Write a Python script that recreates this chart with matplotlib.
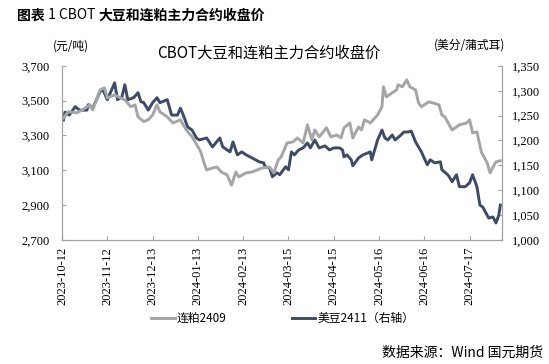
import matplotlib
matplotlib.use('Agg')
import matplotlib.pyplot as plt
from matplotlib.ticker import FuncFormatter
import pandas as pd

plt.rcParams['font.family'] = ['Noto Sans CJK SC', 'DejaVu Sans']

# 连粕2409 (元/吨), left axis
dates_meal = ['2023-10-13', '2023-10-16', '2023-10-22', '2023-10-26', '2023-10-31', '2023-11-02',
              '2023-11-07', '2023-11-10', '2023-11-12', '2023-11-17', '2023-11-21', '2023-11-24',
              '2023-11-28', '2023-12-01', '2023-12-03', '2023-12-07', '2023-12-10', '2023-12-13',
              '2023-12-16', '2023-12-18', '2023-12-23', '2023-12-27', '2024-01-01', '2024-01-05',
              '2024-01-09', '2024-01-13', '2024-01-15', '2024-01-17', '2024-01-19', '2024-01-23',
              '2024-01-26', '2024-01-29', '2024-02-02', '2024-02-05', '2024-02-08', '2024-02-10',
              '2024-02-15', '2024-02-19', '2024-02-26', '2024-03-02', '2024-03-05', '2024-03-08',
              '2024-03-10', '2024-03-14', '2024-03-18', '2024-03-21', '2024-03-25', '2024-03-28',
              '2024-03-31', '2024-04-02', '2024-04-05', '2024-04-10', '2024-04-13', '2024-04-17',
              '2024-04-20', '2024-04-22', '2024-04-26', '2024-04-28', '2024-05-02', '2024-05-04',
              '2024-05-06', '2024-05-10', '2024-05-15', '2024-05-18', '2024-05-19', '2024-05-21',
              '2024-05-25', '2024-05-28', '2024-05-29', '2024-06-01', '2024-06-04', '2024-06-06',
              '2024-06-10', '2024-06-12', '2024-06-14', '2024-06-19', '2024-06-22', '2024-06-26',
              '2024-06-28', '2024-06-30', '2024-07-03', '2024-07-05', '2024-07-10', '2024-07-15',
              '2024-07-17', '2024-07-19', '2024-07-22', '2024-07-25', '2024-07-29', '2024-07-31',
              '2024-08-02', '2024-08-04', '2024-08-07']
meal = [3400, 3436, 3430, 3447, 3476, 3447,
        3562, 3574, 3516, 3533, 3516, 3505,
        3465, 3476, 3407, 3380, 3390, 3418,
        3476, 3436, 3407, 3372, 3390, 3332,
        3292, 3235, 3205, 3148, 3102, 3113,
        3119, 3090, 3073, 3015, 3090, 3062,
        3085, 3090, 3113, 3119, 3085, 3160,
        3177, 3257, 3263, 3286, 3257, 3361,
        3275, 3332, 3292, 3344, 3292, 3303,
        3286, 3344, 3372, 3286, 3349, 3332,
        3390, 3372, 3418, 3465, 3580, 3522,
        3545, 3562, 3591, 3580, 3620, 3580,
        3562, 3487, 3465, 3493, 3487, 3476,
        3418, 3407, 3361, 3332, 3361, 3372,
        3390, 3315, 3320, 3205, 3142, 3085,
        3119, 3148, 3155]

# 美豆2411 (美分/蒲式耳), right axis
dates_bean = ['2023-10-13', '2023-10-14', '2023-10-17', '2023-10-21', '2023-10-24', '2023-10-29',
              '2023-10-30', '2023-11-02', '2023-11-07', '2023-11-09', '2023-11-12', '2023-11-15',
              '2023-11-17', '2023-11-19', '2023-11-22', '2023-11-24', '2023-11-26', '2023-11-30',
              '2023-12-03', '2023-12-05', '2023-12-07', '2023-12-10', '2023-12-13', '2023-12-16',
              '2023-12-18', '2023-12-23', '2023-12-26', '2023-12-30', '2024-01-01', '2024-01-03',
              '2024-01-06', '2024-01-09', '2024-01-12', '2024-01-14', '2024-01-19', '2024-01-23',
              '2024-01-28', '2024-01-30', '2024-02-04', '2024-02-06', '2024-02-09', '2024-02-12',
              '2024-02-15', '2024-02-19', '2024-02-24', '2024-02-27', '2024-02-28', '2024-03-02',
              '2024-03-04', '2024-03-07', '2024-03-09', '2024-03-13', '2024-03-15', '2024-03-17',
              '2024-03-19', '2024-03-22', '2024-03-25', '2024-03-28', '2024-03-30', '2024-04-02',
              '2024-04-05', '2024-04-09', '2024-04-12', '2024-04-15', '2024-04-19', '2024-04-21',
              '2024-04-22', '2024-04-24', '2024-04-27', '2024-04-28', '2024-05-02', '2024-05-05',
              '2024-05-10', '2024-05-11', '2024-05-13', '2024-05-15', '2024-05-18', '2024-05-20',
              '2024-05-22', '2024-05-25', '2024-05-27', '2024-05-31', '2024-06-02', '2024-06-05',
              '2024-06-07', '2024-06-10', '2024-06-14', '2024-06-18', '2024-06-20', '2024-06-23',
              '2024-06-27', '2024-06-28', '2024-07-02', '2024-07-03', '2024-07-05', '2024-07-08',
              '2024-07-10', '2024-07-14', '2024-07-17', '2024-07-19', '2024-07-22', '2024-07-24',
              '2024-07-26', '2024-07-30', '2024-08-02', '2024-08-04', '2024-08-06', '2024-08-07']
bean = [1241, 1257, 1251, 1268, 1261, 1261,
        1272, 1265, 1298, 1302, 1282, 1302,
        1316, 1282, 1288, 1312, 1282, 1286,
        1296, 1278, 1276, 1261, 1276, 1286,
        1276, 1282, 1251, 1251, 1265, 1251,
        1227, 1221, 1205, 1201, 1205, 1187,
        1205, 1187, 1177, 1197, 1171, 1177,
        1171, 1165, 1157, 1155, 1147, 1145,
        1127, 1135, 1131, 1147, 1141, 1177,
        1171, 1181, 1185, 1195, 1185, 1201,
        1185, 1189, 1181, 1185, 1185, 1181,
        1167, 1171, 1161, 1149, 1165, 1171,
        1177, 1161, 1181, 1201, 1221, 1205,
        1201, 1211, 1201, 1211, 1217, 1217,
        1219, 1197, 1177, 1151, 1161, 1155,
        1157, 1141, 1131, 1127, 1117, 1131,
        1107, 1107, 1115, 1131, 1107, 1070,
        1066, 1044, 1046, 1034, 1050, 1070]

tick_dates = ['2023-10-12', '2023-11-12', '2023-12-13', '2024-01-13', '2024-02-13',
              '2024-03-15', '2024-04-15', '2024-05-16', '2024-06-16', '2024-07-17']

grey = '#A5A5A5'
navy = '#3D4B66'
axis_col = '#A0A0A0'
serif = ['Liberation Serif', 'DejaVu Serif']

fig = plt.figure(figsize=(5.49, 3.64), dpi=100)
ax = fig.add_axes([0.113, 0.341, 0.801, 0.478])
ax2 = ax.twinx()

l1, = ax.plot(pd.to_datetime(dates_meal), meal, color=grey, lw=2.1)
l2, = ax2.plot(pd.to_datetime(dates_bean), bean, color=navy, lw=2.1)

ax.set_xlim(pd.Timestamp('2023-10-12'), pd.Timestamp('2024-08-08'))
ax.set_ylim(2700, 3700)
ax2.set_ylim(1000, 1350)
ax.set_yticks(range(2700, 3701, 200))
ax2.set_yticks(range(1000, 1351, 50))
fmt = FuncFormatter(lambda v, p: f'{int(v):,}')
ax.yaxis.set_major_formatter(fmt)
ax2.yaxis.set_major_formatter(fmt)

ax.set_xticks(pd.to_datetime(tick_dates))
ax.set_xticklabels(tick_dates, rotation=90, fontsize=9, family=serif)
for t in ax.get_yticklabels() + ax2.get_yticklabels():
    t.set_family(serif)
    t.set_fontsize(9)

for a in (ax, ax2):
    a.spines['top'].set_visible(False)
    for s in ('left', 'right', 'bottom'):
        a.spines[s].set_color(axis_col)
ax.tick_params(axis='x', direction='in', length=3, color=axis_col, pad=5)
ax.tick_params(axis='y', direction='in', length=3, color=axis_col, pad=9)
ax2.tick_params(axis='y', direction='in', length=3, color=axis_col, pad=7)

ax.set_zorder(ax2.get_zorder() + 1)
ax.patch.set_visible(False)

# heading: mixed bold / regular pieces
r = fig.canvas.get_renderer()
x0 = 17
for piece, w in [('图表', 'bold'), (' 1 CBOT ', 'normal'), ('大豆和连粕主力合约收盘价', 'bold')]:
    t = fig.text(x0 / 549, 0.958, piece, fontsize=10, fontweight=w, va='center')
    x0 = t.get_window_extent(r).x1

fig.text(0.49, 0.855, 'CBOT大豆和连粕主力合约收盘价', fontsize=11, ha='center', va='center')
fig.text(0.13, 0.874, '(元/吨)', fontsize=8.5, ha='center', va='center')
fig.text(0.855, 0.876, '(美分/蒲式耳)', fontsize=8.5, ha='center', va='center')

fig.legend([l1, l2], ['连粕2409', '美豆2411（右轴）'], loc='center', bbox_to_anchor=(0.515, 0.126),
           ncol=2, frameon=False, fontsize=8.5, handlelength=2.0, columnspacing=5.5, handletextpad=0.2)

fig.text(0.99, 0.03, '数据来源：Wind 国元期货', fontsize=10, ha='right', va='center')

fig.savefig('out.png', dpi=100)
